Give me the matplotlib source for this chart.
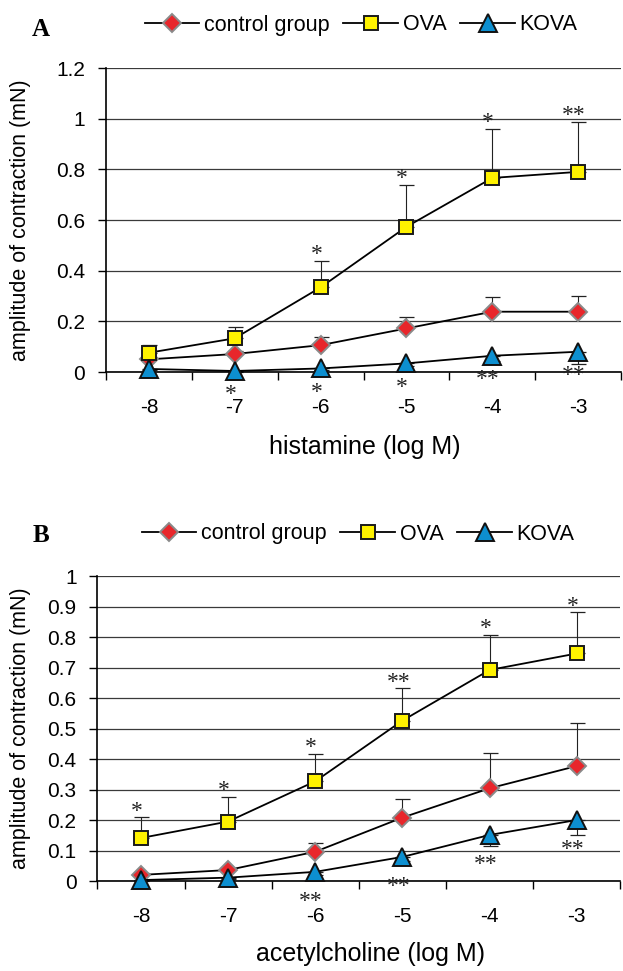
import numpy as np
import matplotlib
matplotlib.use("Agg")
import matplotlib.pyplot as plt

plt.rcParams['font.family'] = ['Liberation Sans', 'DejaVu Sans']

# ---------------- data ----------------
conc_labels = ['-8', '-7', '-6', '-5', '-4', '-3']
series_names = ['control group', 'OVA', 'KOVA']

hist_control = [0.050, 0.071, 0.106, 0.172, 0.238, 0.238]
hist_control_err = [0.010, 0.010, 0.031, 0.044, 0.057, 0.063]
hist_ova = [0.076, 0.133, 0.334, 0.573, 0.766, 0.790]
hist_ova_err = [0.031, 0.046, 0.105, 0.165, 0.195, 0.197]
hist_kova = [0.012, 0.004, 0.014, 0.034, 0.064, 0.080]
hist_kova_err = [0.005, 0.005, 0.005, 0.010, 0.020, 0.050]
hist_ova_sig = ['', '', '*', '*', '*', '**']
hist_kova_sig = ['', '*', '*', '*', '**', '**']

ach_control = [0.020, 0.036, 0.096, 0.208, 0.304, 0.377]
ach_control_err = [0.005, 0.005, 0.030, 0.060, 0.115, 0.140]
ach_ova = [0.141, 0.195, 0.327, 0.526, 0.692, 0.746]
ach_ova_err = [0.068, 0.082, 0.089, 0.106, 0.116, 0.135]
ach_kova = [0.003, 0.011, 0.030, 0.079, 0.151, 0.200]
ach_kova_err = [0.003, 0.005, 0.010, 0.015, 0.036, 0.049]
ach_ova_sig = ['*', '*', '*', '**', '*', '*']
ach_kova_sig = ['', '', '**', '**', '**', '**']

hist_yticks = [0, 0.2, 0.4, 0.6, 0.8, 1.0, 1.2]
hist_yticklabels = ['0', '0.2', '0.4', '0.6', '0.8', '1', '1.2']
ach_yticks = [0, 0.1, 0.2, 0.3, 0.4, 0.5, 0.6, 0.7, 0.8, 0.9, 1.0]
ach_yticklabels = ['0', '0.1', '0.2', '0.3', '0.4', '0.5', '0.6', '0.7', '0.8', '0.9', '1']

# ---------------- style ----------------
W, H = 623, 971
fig = plt.figure(figsize=(W / 100, H / 100), dpi=100)

styles = [
    dict(marker='D', ms=8.8, mfc='#e8262b', mec='#8a8a8a', mew=1.4),
    dict(marker='s', ms=10, mfc='#fff200', mec='#1a1a1a', mew=1.4),
    dict(marker='^', ms=13.5, mfc='#0d8fd0', mec='#111111', mew=1.4),
]


def panel(rect, ctrl, ctrl_e, ova, ova_e, kova, kova_e, ova_sig, kova_sig,
          ymax, yticks, yticklabels, xlabel, xlab_pos, ylab_x, letter, letter_xy,
          leg_xy, kova_off):
    ax = fig.add_axes(rect)
    x = np.arange(len(conc_labels))
    vals = [ctrl, ova, kova]
    errs = [ctrl_e, ova_e, kova_e]
    handles = []
    for i, (v, e, st) in enumerate(zip(vals, errs, styles)):
        e = np.asarray(e)
        z = np.zeros_like(e)
        yerr = [e, z] if i == 2 else [z, e]
        ax.errorbar(x, v, yerr=yerr, fmt='none', ecolor='#222222',
                    elinewidth=0.8, capsize=5.4, capthick=0.9, zorder=2,
                    clip_on=False)
        h, = ax.plot(x, v, color='black', lw=1.3, zorder=3 + i * 0.1,
                     clip_on=False, label=series_names[i], **st)
        handles.append(h)
    # significance marks
    for xi, yi, ei, s in zip(x, ova, ova_e, ova_sig):
        if s:
            ax.annotate(s, (xi, yi + ei), xytext=(-3, 0.5), textcoords='offset points',
                        ha='center', va='baseline', fontsize=17,
                        family='Liberation Serif', color='#222222')
    for xi, yi, s in zip(x, kova, kova_sig):
        if s:
            ax.annotate(s, (xi, yi), xytext=(-3, kova_off), textcoords='offset points',
                        ha='center', va='baseline', fontsize=17,
                        family='Liberation Serif', color='#222222',
                        annotation_clip=False)

    ax.set_xlim(-0.5, len(conc_labels) - 0.5)
    ax.set_ylim(0, ymax)
    ax.set_xticks(x)
    ax.set_xticklabels(conc_labels)
    ax.set_xticks(np.arange(-0.5, len(conc_labels), 1.0), minor=True)
    ax.tick_params(axis='x', which='major', length=0, pad=19, labelsize=15)
    ax.tick_params(axis='x', which='minor', length=6, width=1.0, direction='out')
    ax.set_yticks(yticks)
    ax.set_yticklabels(yticklabels)
    ax.tick_params(axis='y', length=6, width=1.0, pad=9, labelsize=15)
    ax.yaxis.grid(True, color='#3a3a3a', lw=0.9)
    ax.set_axisbelow(True)
    for sp in ['top', 'right']:
        ax.spines[sp].set_visible(False)
    for sp in ['left', 'bottom']:
        ax.spines[sp].set_linewidth(1.2)
        ax.spines[sp].set_zorder(2.5)

    ax.set_ylabel('amplitude of contraction (mN)', fontsize=15.5)
    ax.yaxis.set_label_coords(ylab_x, 0.5)
    ax.yaxis.label.set_va('center')
    ax.set_xlabel(xlabel, fontsize=18)
    ax.xaxis.set_label_coords(*xlab_pos)
    ax.xaxis.label.set_va('baseline')

    fig.text(letter_xy[0], letter_xy[1], letter, family='Liberation Serif',
             weight='bold', fontsize=18, ha='center', va='center')
    ax.legend(handles=handles, loc='center', bbox_to_anchor=leg_xy,
              bbox_transform=fig.transFigure, ncol=3, frameon=False,
              fontsize=15.5, handlelength=2.55, handletextpad=0.2,
              columnspacing=0.65, borderpad=0, borderaxespad=0, numpoints=1)
    return ax


panel([106 / W, 1 - 372 / H, 515 / W, 304 / H],
      hist_control, hist_control_err, hist_ova, hist_ova_err, hist_kova, hist_kova_err,
      hist_ova_sig, hist_kova_sig, 1.2, hist_yticks, hist_yticklabels,
      'histamine (log M)', (0.503, -0.2697), (21 - 106) / 515, 'A',
      (41 / W, 1 - 29 / H), (361 / W, 1 - 25 / H), -21)

panel([97.4 / W, 1 - 881 / H, 523 / W, 305 / H],
      ach_control, ach_control_err, ach_ova, ach_ova_err, ach_kova, ach_kova_err,
      ach_ova_sig, ach_kova_sig, 1.0, ach_yticks, ach_yticklabels,
      'acetylcholine (log M)', (0.523, -0.262), (21 - 97.4) / 523, 'B',
      (41 / W, 1 - 536 / H), (358 / W, 1 - 534 / H), -25)

fig.savefig('out.png', dpi=100)
